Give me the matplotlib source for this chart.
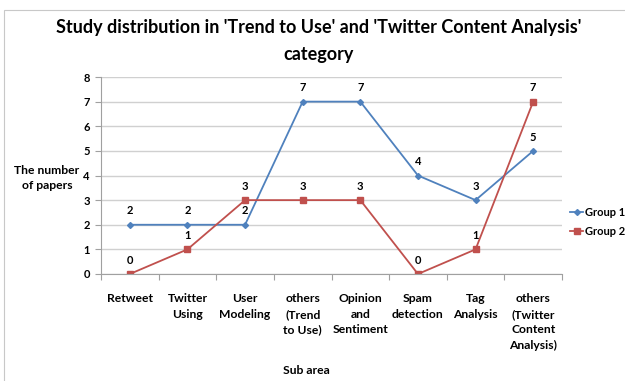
import matplotlib
matplotlib.use("Agg")
import matplotlib.pyplot as plt
from matplotlib.patches import Rectangle

categories = ["Retweet", "Twitter\nUsing", "User\nModeling", "others\n(Trend\nto Use)",
              "Opinion\nand\nSentiment", "Spam\ndetection", "Tag\nAnalysis",
              "others\n(Twitter\nContent\nAnalysis)"]
group1 = [2, 2, 2, 7, 7, 4, 3, 5]
group2 = [0, 1, 3, 3, 3, 0, 1, 7]
y_ticks = [0, 1, 2, 3, 4, 5, 6, 7, 8]

BLUE = "#4F81BD"
RED = "#C0504D"
FONT = "Lato"

plt.rcParams["font.family"] = [FONT, "DejaVu Sans"]

fig = plt.figure(figsize=(6.25, 3.81), dpi=100)
# light chart-area frame, open on the right/bottom as in the reference crop
fig.patches.append(Rectangle((4 / 625, -0.1), 1.1, 1.1 - 10 / 381,
                             transform=fig.transFigure, fill=False,
                             edgecolor="#c8c8c8", linewidth=0.8))
ax = fig.add_axes([101 / 625, 1 - 274 / 381, 461 / 625, 197 / 381])

x = list(range(len(categories)))
ax.plot(x, group1, color=BLUE, marker="D", markersize=3, linewidth=1.3, label="Group 1")
ax.plot(x, group2, color=RED, marker="s", markersize=4.5, linewidth=1.3, label="Group 2")

for series in (group1, group2):
    for xi, v in zip(x, series):
        ax.annotate(str(v), (xi, v), xytext=(0, 6), textcoords="offset points",
                    ha="center", va="bottom", fontsize=8, fontweight="bold")

ax.set_xlim(-0.5, len(categories) - 0.5)
ax.set_ylim(0, 8)
ax.set_yticks(y_ticks)
ax.set_yticklabels([str(t) for t in y_ticks], fontsize=8, fontweight="bold")
ax.set_xticks([i - 0.5 for i in range(len(categories) + 1)])
ax.set_xticklabels([])
ax.set_xticks(x, minor=True)
ax.set_xticklabels(categories, minor=True, fontsize=8.7, fontweight="bold",
                   va="top", linespacing=1.5)
ax.tick_params(axis="x", which="minor", length=0, pad=14)
ax.tick_params(axis="x", which="major", length=4, color="#a0a0a0")
ax.tick_params(axis="y", length=4, color="#a0a0a0", pad=4)

ax.yaxis.grid(True, color="#d0d0d0", linewidth=1.0)
ax.set_axisbelow(True)
for side in ["top", "right"]:
    ax.spines[side].set_visible(False)
ax.spines["left"].set_color("#a0a0a0")
ax.spines["bottom"].set_color("#a0a0a0")

fig.text(0.5 + 6 / 625, 1 - 41 / 381,
         "Study distribution in 'Trend to Use' and 'Twitter Content Analysis'\ncategory",
         ha="center", va="center", fontsize=13, fontweight="bold", linespacing=1.65)
fig.text(47 / 625, 1 - 178 / 381, "The number\nof papers", ha="center", va="center",
         fontsize=8.7, fontweight="bold", linespacing=1.45)
fig.text(0.5 - 6 / 625, 1 - 370 / 381, "Sub area", ha="center", va="center",
         fontsize=8.7, fontweight="bold")

fig.legend(loc="upper left", bbox_to_anchor=(570 / 625, 1 - 207 / 381), frameon=False,
           handlelength=1.2, handletextpad=0.15, borderaxespad=0, borderpad=0,
           labelspacing=0.75, prop={"weight": "bold", "size": 8})

fig.savefig("out.png", dpi=100)
